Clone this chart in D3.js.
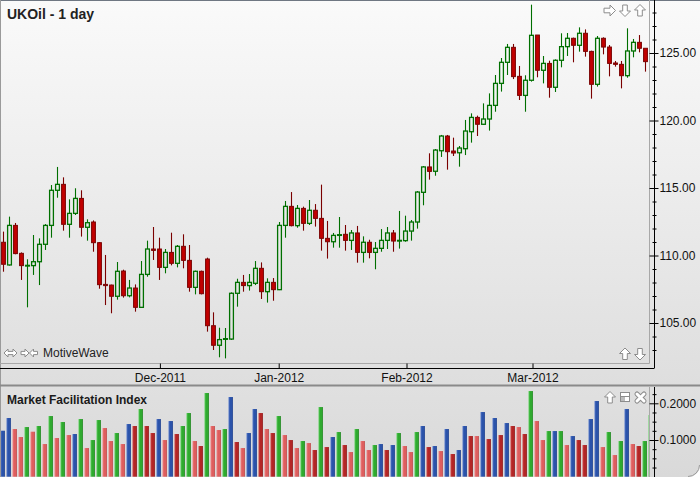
<!DOCTYPE html>
<html><head><meta charset="utf-8">
<script src="https://cdn.jsdelivr.net/npm/d3@7"></script>
<style>body{margin:0;background:#fff;overflow:hidden}svg{display:block}text{font-family:"Liberation Sans",Arial,sans-serif}</style>
</head><body><svg id="c" width="700" height="477"></svg>
<script>
const opens  = [110.98,109.30,112.23,110.16,109.22,109.25,109.54,110.83,112.23,114.83,115.27,112.31,113.12,114.23,112.09,112.48,110.95,107.86,107.81,106.98,108.85,107.02,107.59,106.16,108.60,110.48,110.48,109.12,110.23,109.42,110.68,109.64,107.64,108.83,109.74,104.80,103.35,103.79,103.81,107.20,108.01,107.77,107.94,109.05,107.32,108.01,107.47,112.23,113.64,112.21,113.49,112.38,113.35,112.75,111.27,111.02,111.49,111.57,111.12,111.67,110.23,110.98,110.23,110.53,111.12,111.67,111.07,111.10,111.81,112.48,114.68,116.56,116.24,117.76,118.85,117.74,117.61,117.91,119.17,120.23,119.72,120.11,121.12,122.75,124.31,125.42,123.27,121.86,122.98,126.33,123.72,124.23,122.46,124.46,125.47,126.09,125.57,126.46,125.12,122.68,126.09,125.44,124.26,124.16,123.32,125.15,125.79,125.35];
const highs  = [111.77,112.88,112.41,110.23,109.72,111.52,111.27,112.33,115.22,116.56,115.79,114.16,114.98,114.83,112.68,112.60,111.00,110.04,107.84,109.52,108.95,108.19,107.86,109.59,111.10,112.11,111.32,110.48,111.69,110.78,111.57,110.78,108.88,108.88,109.84,105.79,104.65,104.63,107.27,108.28,108.56,108.63,109.59,109.49,108.31,108.33,112.48,114.04,114.70,113.74,113.62,114.11,113.81,115.25,112.56,111.67,112.85,112.26,111.89,112.19,111.42,111.17,111.00,111.96,112.11,111.89,113.30,112.95,112.63,114.78,116.63,117.57,117.89,118.93,118.93,118.73,118.11,120.04,120.53,120.36,121.27,122.01,123.37,124.63,125.67,125.67,124.04,123.35,128.58,126.33,124.78,124.43,124.53,126.46,126.48,126.14,126.90,126.75,125.17,126.26,126.16,125.59,124.41,124.41,126.83,126.04,126.33,125.35];
const lows   = [108.80,109.25,110.09,108.19,106.16,108.56,107.81,110.41,111.32,114.28,111.84,111.32,113.00,111.40,111.10,110.28,107.54,106.33,105.72,106.73,106.88,106.90,105.84,106.14,108.43,109.67,108.19,108.68,109.27,109.12,109.05,107.32,107.12,107.12,104.36,103.00,102.46,102.38,103.74,106.21,107.32,107.40,107.81,106.78,106.51,106.65,107.44,111.32,112.16,112.06,111.84,112.26,112.14,110.36,109.77,110.58,110.58,110.36,110.41,109.47,109.47,109.79,108.98,110.28,110.48,110.28,110.51,111.02,111.10,111.99,113.72,115.62,115.91,117.30,116.36,117.37,116.58,117.44,118.36,118.85,119.67,119.25,120.65,122.14,123.37,123.07,121.52,120.65,122.88,123.20,122.75,121.69,122.11,123.94,124.78,124.31,125.10,124.73,121.62,122.51,124.90,123.27,123.99,122.38,123.17,124.68,125.05,123.62];
const closes = [109.35,112.23,110.14,109.25,109.27,109.54,110.83,112.23,114.83,115.27,112.31,113.12,114.23,112.09,112.43,110.95,107.84,107.77,106.98,108.83,107.02,107.59,106.16,108.60,110.48,110.38,109.12,110.23,109.42,110.68,109.64,107.64,108.83,107.17,104.80,103.35,103.77,103.84,107.20,108.01,107.77,108.01,109.05,107.32,108.01,107.47,112.23,113.64,112.21,113.49,112.38,113.35,112.75,111.27,111.02,111.49,111.54,111.12,111.67,110.23,110.98,110.23,110.53,111.12,111.67,111.07,111.12,111.81,112.48,114.70,116.56,116.23,117.81,118.85,117.69,117.59,117.96,119.22,120.23,119.72,120.11,121.12,122.75,124.31,125.42,123.25,121.86,122.98,126.31,123.72,124.23,122.46,124.46,125.47,126.09,125.57,126.46,125.12,122.68,126.09,125.44,124.23,124.16,123.32,125.15,125.79,125.35,124.36];
const mfiValues = [0.1253,0.1599,0.1299,0.1081,0.1353,0.1226,0.1381,0.0890,0.1653,0.1054,0.1490,0.1135,0.1163,0.1571,0.0781,0.0999,0.1544,0.1326,0.0972,0.1190,0.0890,0.1435,0.1381,0.1844,0.1381,0.1190,0.1571,0.0999,0.1517,0.1163,0.1381,0.1735,0.0972,0.0836,0.2280,0.1381,0.1272,0.1299,0.2171,0.0945,0.0781,0.1190,0.1844,0.1735,0.1299,0.1190,0.1653,0.1135,0.0999,0.0781,0.0972,0.0917,0.0727,0.1898,0.0808,0.1081,0.1217,0.0863,0.0672,0.1299,0.0972,0.0727,0.0863,0.0890,0.0727,0.0863,0.1190,0.0836,0.0672,0.1217,0.1381,0.0808,0.0836,0.0699,0.1299,0.0618,0.0727,0.1381,0.1108,0.1108,0.1762,0.1026,0.1599,0.1135,0.1462,0.1381,0.1353,0.1163,0.2334,0.1517,0.0999,0.1244,0.1244,0.1244,0.0863,0.1108,0.0999,0.0863,0.1571,0.2062,0.0808,0.1217,0.0590,0.0972,0.1844,0.0890,0.0836,0.0972,0.1680];
const mfiClass = "BBPPGPGPGPGPBGPGGPPGPBRGRRBPBRGGPRGPPGBRPBBRPRGPRPGPRGRBGRPGPPGBRBGPPGBRBPBRBBRPBRBRBRPRGPPGBGPBRRBBPGPGBPRGG".split("");
const priceTicks = [105,110,115,120,125];
const mfiTicks = [0.1,0.2];
const monthLabels = ["Dec-2011","Jan-2012","Feb-2012","Mar-2012"];
const monthIndex = [26.2,46,67.3,88.3];

const svg = d3.select("#c");
const defs = svg.append("defs");
const W = 700, H = 477, plotR = 649, axisX = 654, mainB = 363, xAxisY = 368, sepY = 385.5, lowT = 387;

const bg = defs.append("linearGradient").attr("id","bg").attr("x1",0).attr("y1",0).attr("x2",0).attr("y2",1);
bg.append("stop").attr("offset","0").attr("stop-color","#fafafa");
bg.append("stop").attr("offset","1").attr("stop-color","#dedede");
const bg2 = defs.append("linearGradient").attr("id","bg2").attr("x1",0).attr("y1",0).attr("x2",0).attr("y2",1);
bg2.append("stop").attr("offset","0").attr("stop-color","#e0e0e0");
bg2.append("stop").attr("offset","1").attr("stop-color","#d9d9d9");
const barCols = {G:["#62d262","#2faa2f","#1c761c"],B:["#5a7ccc","#2b53aa","#1b3a82"],R:["#d24a4a","#b32626","#7e1717"],P:["#f28a8a","#de5e5e","#ae4040"]};
Object.entries(barCols).forEach(([k,c])=>{
  const g = defs.append("linearGradient").attr("id","bar"+k).attr("x1",0).attr("y1",0).attr("x2",1).attr("y2",0);
  g.append("stop").attr("offset","0").attr("stop-color",c[0]);
  g.append("stop").attr("offset","0.35").attr("stop-color",c[1]);
  g.append("stop").attr("offset","0.8").attr("stop-color",c[1]);
  g.append("stop").attr("offset","1").attr("stop-color",c[2]);
});
defs.append("clipPath").attr("id","clipMain").append("rect").attr("x",1).attr("y",1).attr("width",plotR-1).attr("height",mainB-1);
defs.append("clipPath").attr("id","clipLow").append("rect").attr("x",1).attr("y",lowT).attr("width",plotR-1).attr("height",H-lowT);

// backgrounds
svg.append("rect").attr("x",0).attr("y",0).attr("width",W).attr("height",sepY).attr("fill","url(#bg)");
svg.append("rect").attr("x",0).attr("y",sepY).attr("width",W).attr("height",H-sepY).attr("fill","url(#bg2)");
svg.append("line").attr("x1",0).attr("x2",W).attr("y1",0.5).attr("y2",0.5).attr("stroke","#6f7782");
svg.append("line").attr("x1",0.5).attr("x2",0.5).attr("y1",0).attr("y2",H).attr("stroke","#9a9a9a");
svg.append("line").attr("x1",0).attr("x2",W).attr("y1",sepY).attr("y2",sepY).attr("stroke","#8a8a8a").attr("stroke-width",2);

// panel borders
svg.append("path").attr("d",`M0,${mainB+0.5}H${plotR+0.5}V0`).attr("fill","none").attr("stroke","#a8a8a8");
svg.append("line").attr("x1",plotR+0.5).attr("x2",plotR+0.5).attr("y1",lowT).attr("y2",H).attr("stroke","#a8a8a8");

const x = d3.scaleLinear().domain([0,107]).range([2.7,644.7]);
const y = d3.scaleLinear().domain([105,125]).range([323,53]);
const ym = d3.scaleLinear().domain([0,0.2]).range([476.7,403.3]);

// candles
const idx = d3.range(opens.length);
const cg = svg.append("g").attr("clip-path","url(#clipMain)");
const up = i => closes[i] >= opens[i];
const wickCol = i => up(i) ? "#006f00" : "#7a0000";
idx.forEach(i=>{
  const top = y(Math.max(opens[i],closes[i])), bot = y(Math.min(opens[i],closes[i]));
  const cx = Math.round(x(i)) + 0.5;
  cg.append("line").attr("x1",cx).attr("x2",cx).attr("y1",y(highs[i])).attr("y2",top).attr("stroke",wickCol(i)).attr("stroke-width",1.1);
  cg.append("line").attr("x1",cx).attr("x2",cx).attr("y1",bot).attr("y2",y(lows[i])).attr("stroke",wickCol(i)).attr("stroke-width",1.1);
  cg.append("rect").attr("x",cx-1.9).attr("width",3.8).attr("y",top).attr("height",Math.max(bot-top,0.6))
    .attr("fill", up(i) ? "none" : "#c20000")
    .attr("stroke", up(i) ? "#007000" : "#780000").attr("stroke-width", up(i) ? 1.3 : 1);
});

// MFI bars
const bg3 = svg.append("g").attr("clip-path","url(#clipLow)");
bg3.selectAll("rect").data(mfiValues).join("rect")
  .attr("x",(d,i)=>x(i)-2.2).attr("width",4.4)
  .attr("y",d=>ym(d)).attr("height",d=>ym(0)-ym(d))
  .attr("fill",(d,i)=>`url(#bar${mfiClass[i]})`);

// Y axis main
svg.append("line").attr("x1",axisX+0.5).attr("x2",axisX+0.5).attr("y1",0).attr("y2",xAxisY).attr("stroke","#000");
const minorMain = svg.append("g").attr("transform",`translate(${axisX+0.5},0)`)
  .call(d3.axisRight(y).tickValues(d3.range(103,129).filter(v=>v%5)).tickSize(2).tickFormat(""));
minorMain.select(".domain").remove();
minorMain.selectAll("line").attr("x1",-2).attr("stroke","#000");
const majMain = svg.append("g").attr("transform",`translate(${axisX+0.5},0)`)
  .call(d3.axisRight(y).tickValues(priceTicks).tickSize(4).tickPadding(1).tickFormat(d3.format(".2f")));
majMain.select(".domain").remove();
majMain.selectAll("line").attr("x1",-5).attr("stroke","#000");
majMain.selectAll("text").attr("font-size",12).attr("fill","#111").attr("font-family","Liberation Sans, Arial, sans-serif");

// Y axis lower
svg.append("line").attr("x1",axisX+0.5).attr("x2",axisX+0.5).attr("y1",lowT).attr("y2",H).attr("stroke","#000");
const minorLow = svg.append("g").attr("transform",`translate(${axisX+0.5},0)`)
  .call(d3.axisRight(ym).tickValues([0.025,0.05,0.075,0.125,0.15,0.175,0.225]).tickSize(2).tickFormat(""));
minorLow.select(".domain").remove();
minorLow.selectAll("line").attr("x1",-2).attr("stroke","#000");
const majLow = svg.append("g").attr("transform",`translate(${axisX+0.5},0)`)
  .call(d3.axisRight(ym).tickValues(mfiTicks).tickSize(4).tickPadding(1).tickFormat(d3.format(".4f")));
majLow.select(".domain").remove();
majLow.selectAll("line").attr("x1",-5).attr("stroke","#000");
majLow.selectAll("text").attr("font-size",12).attr("fill","#111").attr("font-family","Liberation Sans, Arial, sans-serif");

// X axis
svg.append("line").attr("x1",0).attr("x2",axisX+0.5).attr("y1",xAxisY+0.5).attr("y2",xAxisY+0.5).attr("stroke","#000");
const xa = svg.append("g").attr("transform",`translate(0,${xAxisY+0.5})`)
  .call(d3.axisBottom(x).tickValues(monthIndex).tickSizeInner(-5).tickSizeOuter(0).tickPadding(4.5)
    .tickFormat((d,i)=>monthLabels[i]));
xa.select(".domain").remove();
xa.selectAll("line").attr("stroke","#000");
xa.selectAll("text").attr("font-size",12).attr("fill","#111").attr("font-family","Liberation Sans, Arial, sans-serif");

// titles
svg.append("text").attr("x",7).attr("y",18.5).attr("font-size",14).attr("font-weight","bold").attr("fill","#222").text("UKOil - 1 day");
svg.append("text").attr("x",7).attr("y",404).attr("font-size",12).attr("font-weight","bold").attr("fill","#1a1a1a").text("Market Facilitation Index");
svg.append("text").attr("x",43).attr("y",357).attr("font-size",12).attr("fill","#222").text("MotiveWave");

// icons
const iconStyle = s => s.attr("fill","#fff").attr("stroke","#8c8c8c").attr("stroke-width",1);
const arrowPts = [[0,-6],[5.5,-0.5],[2.3,-0.5],[2.3,5.5],[-2.3,5.5],[-2.3,-0.5],[-5.5,-0.5]];
function arrow(cx,cy,rot){
  iconStyle(svg.append("polygon").attr("points",arrowPts.map(p=>p.join(",")).join(" "))
    .attr("transform",`translate(${cx},${cy}) rotate(${rot})`));
}
arrow(609.5,10.5,90); arrow(625,10.5,180); arrow(640,10.5,0);
arrow(625,354,0); arrow(640,354,180);
arrow(610,397.5,0);
// double arrow
iconStyle(svg.append("polygon").attr("points","-6.5,0 -2.5,-4 -2.5,-1.6 2.5,-1.6 2.5,-4 6.5,0 2.5,4 2.5,1.6 -2.5,1.6 -2.5,4")
  .attr("transform","translate(10.5,353)"));
iconStyle(svg.append("polygon").attr("points","-4,-1.6 0,-1.6 0,-4 4,0 0,4 0,1.6 -4,1.6").attr("transform","translate(25,353)"));
iconStyle(svg.append("polygon").attr("points","4,-1.6 0,-1.6 0,-4 -4,0 0,4 0,1.6 4,1.6").attr("transform","translate(33.5,353)"));
// restore icon
iconStyle(svg.append("rect").attr("x",620.5).attr("y",392.5).attr("width",9).attr("height",9));
svg.append("line").attr("x1",620.5).attr("x2",629.5).attr("y1",396.5).attr("y2",396.5).attr("stroke","#8c8c8c");
svg.append("rect").attr("x",621).attr("y",397).attr("width",4).attr("height",4).attr("fill","#bbb");
// close icon
svg.append("path").attr("d","M-3.5,-3.5L3.5,3.5M3.5,-3.5L-3.5,3.5").attr("transform","translate(640.5,397.5)")
  .attr("stroke","#8c8c8c").attr("stroke-width",5).attr("stroke-linecap","round").attr("fill","none");
svg.append("path").attr("d","M-3.5,-3.5L3.5,3.5M3.5,-3.5L-3.5,3.5").attr("transform","translate(640.5,397.5)")
  .attr("stroke","#fff").attr("stroke-width",3).attr("stroke-linecap","round").attr("fill","none");

// rounded window corner
svg.append("path").attr("d",`M${W},${H-12} A12,12 0 0 1 ${W-12},${H} L${W},${H} Z`).attr("fill","#fff");
svg.append("path").attr("d",`M${W-0.5},${H-12} A11.5,11.5 0 0 1 ${W-12},${H-0.5}`).attr("fill","none").attr("stroke","#9a9a9a");
</script></body></html>
